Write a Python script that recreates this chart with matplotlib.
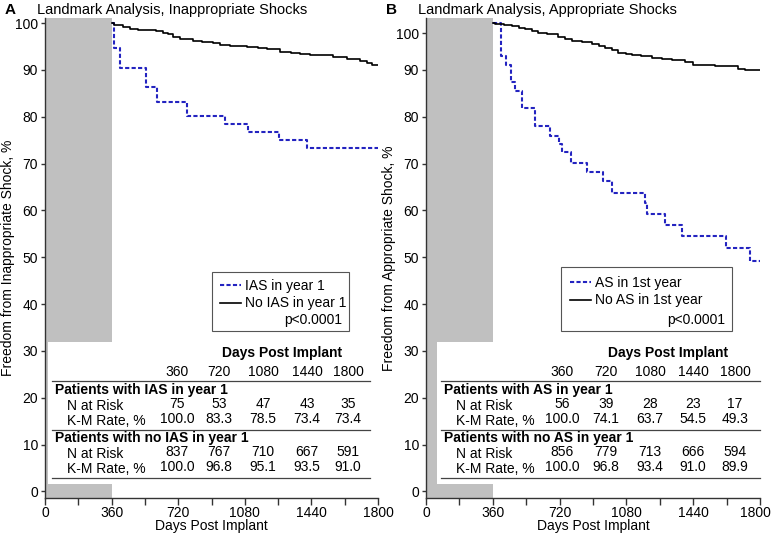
import matplotlib
matplotlib.use('agg')
import matplotlib.pyplot as plt
import matplotlib.transforms as mtransforms
from matplotlib.lines import Line2D
from matplotlib.patches import Rectangle

plt.rcParams['font.family'] = ['Liberation Sans', 'DejaVu Sans']

W, H = 771, 534

# Panel A: Kaplan-Meier steps (days, freedom %)
a_ias_days = [360, 373, 407, 548, 607, 768, 971, 1099, 1266, 1414, 1800]
a_ias_surv = [100, 94.6, 90.5, 86.4, 83.2, 80.2, 78.4, 76.8, 75.0, 73.4, 73.4]
a_no_days = [360, 375, 388, 420, 459, 500, 550, 600, 638, 665, 692, 730, 800, 850,
             908, 946, 1000, 1090, 1150, 1198, 1270, 1330, 1378, 1430, 1486, 1557,
             1631, 1703, 1739, 1770, 1800]
a_no_surv = [100, 99.7, 99.5, 99.2, 98.7, 98.6, 98.5, 98.3, 98.0, 97.6, 97.1, 96.6,
             96.2, 96.0, 95.8, 95.3, 95.2, 94.9, 94.6, 94.4, 93.9, 93.7, 93.5, 93.3,
             93.2, 92.7, 92.3, 91.9, 91.4, 91.1, 91.0]

# Panel B
b_as_days = [360, 405, 430, 458, 478, 520, 585, 666, 715, 735, 779, 866, 955, 1000,
             1180, 1189, 1290, 1377, 1618, 1745, 1800]
b_as_surv = [100, 93.0, 91.1, 87.5, 85.6, 81.8, 78.0, 76.0, 74.1, 72.4, 70.2, 68.3,
             66.2, 63.7, 61.5, 59.2, 56.9, 54.5, 52.0, 49.3, 49.3]
b_no_days = [360, 372, 420, 462, 500, 533, 570, 605, 650, 713, 750, 785, 840, 893,
             930, 965, 1000, 1036, 1080, 1108, 1160, 1216, 1270, 1324, 1395, 1440,
             1503, 1560, 1611, 1683, 1720, 1800]
b_no_surv = [100, 99.8, 99.7, 99.4, 99.0, 98.7, 98.4, 98.0, 97.6, 97.0, 96.6, 96.2,
             95.9, 95.6, 95.2, 94.8, 94.2, 93.7, 93.4, 93.2, 92.9, 92.6, 92.4, 92.2,
             91.6, 91.1, 91.0, 90.9, 90.8, 90.2, 90.0, 89.9]

# number-at-risk tables
table_days = [360, 720, 1080, 1440, 1800]
a_ias_nrisk = [75, 53, 47, 43, 35]
a_ias_km = [100.0, 83.3, 78.5, 73.4, 73.4]
a_no_nrisk = [837, 767, 710, 667, 591]
a_no_km = [100.0, 96.8, 95.1, 93.5, 91.0]
b_as_nrisk = [56, 39, 28, 23, 17]
b_as_km = [100.0, 74.1, 63.7, 54.5, 49.3]
b_no_nrisk = [856, 779, 713, 666, 594]
b_no_km = [100.0, 96.8, 93.4, 91.0, 89.9]

BLUE = '#2323c0'
GRAY = '#c0c0c0'


def fx(p):
    return p / W


def fy(p):
    return 1 - p / H


fig = plt.figure(figsize=(W / 100, H / 100), dpi=100)


def panel(left, right, letter, title, ylabel, curves, labels, tbl, group_names,
          col_x, tab_left, leg_box, leg_rows, yticks, yticklabels, last_shift=0):
    top, bot = 18, 498
    ax = fig.add_axes([fx(left), fy(bot), (right - left) / W, (bot - top) / H])
    ax.set_xlim(0, 1800)
    ax.set_ylim(-1.4, 101.1)
    ax.axvspan(0, 360, color=GRAY, zorder=0, lw=0)
    # white area behind the at-risk table
    x0 = (tab_left - left) / (right - left) * 1800
    ax.add_patch(Rectangle((x0, 1.6), 1800 - x0, 30.4, color='white', zorder=1, lw=0))

    (d1, s1), (d2, s2) = curves
    l1, = ax.step(d1, s1, where='post', color=BLUE, lw=1.5,
                  linestyle=(0, (2.0, 1.1)), zorder=3)
    l2, = ax.step(d2, s2, where='post', color='black', lw=1.2, zorder=3)

    for s in ['top', 'right']:
        ax.spines[s].set_visible(False)
    for s in ['left', 'bottom']:
        ax.spines[s].set_color('#333333')
        ax.spines[s].set_linewidth(1.0)
    ax.set_xticks(range(0, 1801, 360))
    ax.set_xticks(range(180, 1800, 360), minor=True)
    ax.tick_params(axis='x', which='both', length=5, width=1, color='#333333',
                   labelsize=10, pad=1)
    ax.set_yticks(yticks)
    ax.set_yticklabels(yticklabels)
    ax.tick_params(axis='y', length=3, width=1, color='#333333', labelsize=10, pad=2)
    if last_shift:
        lab = ax.get_xticklabels()[-1]
        lab.set_transform(lab.get_transform() +
                          mtransforms.ScaledTranslation(last_shift / 100, 0, fig.dpi_scale_trans))

    # titles and axis labels
    fig.text(fx(left - 40), fy(10), letter, fontsize=11, fontweight='bold', va='center')
    fig.text(fx(left - 8), fy(10), title, fontsize=10.5, va='center')
    fig.text(fx(left - 37), fy(258), ylabel, fontsize=10, rotation=90,
             ha='center', va='center')
    fig.text(fx((left + right) / 2), fy(526), 'Days Post Implant', fontsize=10,
             ha='center', va='center')

    # legend
    bx0, by0, bx1, by1 = leg_box
    fig.add_artist(Rectangle((fx(bx0), fy(by1)), (bx1 - bx0) / W, (by1 - by0) / H,
                             transform=fig.transFigure, fill=False,
                             edgecolor='#555555', lw=0.8))
    ax.legend([l1, l2], labels, loc='upper left',
              bbox_to_anchor=(fx(leg_rows[0]), fy(leg_rows[1])),
              bbox_transform=fig.transFigure, frameon=False, fontsize=10,
              handlelength=1.5, handletextpad=0.3, labelspacing=0.25, borderpad=0,
              borderaxespad=0)
    fig.text(fx(bx1 - 7), fy(by1 - 11), 'p<0.0001', fontsize=10, ha='right', va='center')

    # at-risk table
    mid = (col_x[0] + col_x[-1]) / 2 + 15
    fig.text(fx(mid + 5), fy(353), 'Days Post Implant', fontsize=10, fontweight='bold',
             ha='center', va='center')
    for x, d in zip(col_x, table_days):
        fig.text(fx(x), fy(372), str(d), fontsize=10, ha='center', va='center')
    line_x = [fx(tab_left + 4), fx(right - 8 if letter == 'A' else right)]
    for ly in [380.5, 429.5, 478.3]:
        fig.add_artist(Line2D(line_x, [fy(ly), fy(ly)], color='#444444', lw=0.9))
    (n1, k1), (n2, k2) = tbl
    for g, (name, nr, km) in enumerate([(group_names[0], n1, k1), (group_names[1], n2, k2)]):
        y0 = 390 + g * 48.3
        fig.text(fx(tab_left + 7), fy(y0), name, fontsize=10, fontweight='bold', va='center')
        fig.text(fx(tab_left + 19), fy(y0 + 16), 'N at Risk', fontsize=10, va='center')
        fig.text(fx(tab_left + 19), fy(y0 + 31), 'K-M Rate, %', fontsize=10, va='center')
        for x, n, k in zip(col_x, nr, km):
            fig.text(fx(x), fy(y0 + 14), str(n), fontsize=10, ha='center', va='center')
            fig.text(fx(x), fy(y0 + 29), '%.1f' % k, fontsize=10, ha='center', va='center')
    return ax


panel(45, 378, 'A', 'Landmark Analysis, Inappropriate Shocks',
      'Freedom from Inappropriate Shock, %',
      [(a_ias_days, a_ias_surv), (a_no_days, a_no_surv)],
      ['IAS in year 1', 'No IAS in year 1'],
      [(a_ias_nrisk, a_ias_km), (a_no_nrisk, a_no_km)],
      ['Patients with IAS in year 1', 'Patients with no IAS in year 1'],
      [177, 219, 263, 307, 348], 48, (212, 272, 349, 331), (220, 279),
      list(range(0, 101, 10)), [str(v) for v in range(0, 101, 10)])

panel(426, 760, 'B', 'Landmark Analysis, Appropriate Shocks',
      'Freedom from Appropriate Shock, %',
      [(b_as_days, b_as_surv), (b_no_days, b_no_surv)],
      ['AS in 1st year', 'No AS in 1st year'],
      [(b_as_nrisk, b_as_km), (b_no_nrisk, b_no_km)],
      ['Patients with AS in year 1', 'Patients with no AS in year 1'],
      [562, 606, 650, 693, 735], 437, (561, 267, 732, 331), (570, 276),
      list(range(0, 91, 10)) + [97.8], [str(v) for v in range(0, 91, 10)] + ['100'],
      last_shift=-5)

fig.savefig('out.png', dpi=100)
